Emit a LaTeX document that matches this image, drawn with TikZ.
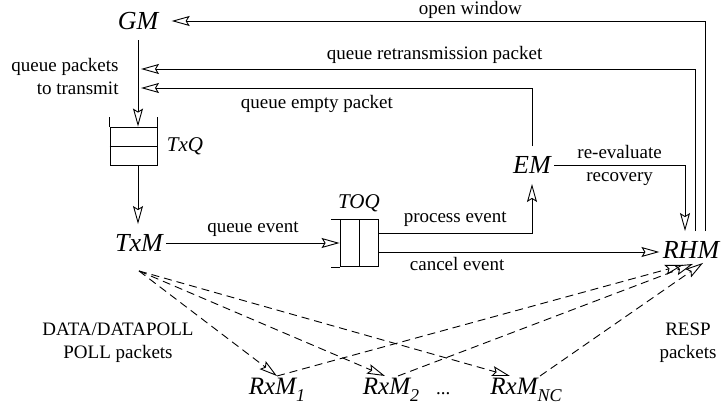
\documentclass[tikz,border=0pt]{standalone}
\usepackage{fontspec}
\setmainfont{Liberation Serif}
\usepackage{tikz}
\usetikzlibrary{arrows.meta}
\usetikzlibrary{positioning}

\newcommand{\rxsub}[1]{\raisebox{-7pt}{\fontsize{18}{18}\selectfont #1}}

\begin{document}
\begin{tikzpicture}[x=1pt,y=-1pt,line width=0.9pt,
  mod/.style={font=\fontsize{26}{28}\selectfont\itshape,inner xsep=3pt,inner ysep=10pt},
  rx/.style={font=\fontsize{25}{27}\selectfont\itshape,inner sep=2pt,anchor=north},
  qname/.style={font=\fontsize{21}{23}\selectfont\itshape,inner sep=2pt},
  msg/.style={font=\fontsize{19}{23}\selectfont,inner sep=2pt},
  arr/.style={-{Stealth[open,length=18pt,width=10pt,inset=3pt]}},
  darr/.style={arr,dash pattern=on 8pt off 5pt}]
  \useasboundingbox (0,0) rectangle (725,414);
  %modules
  \node[mod] (GM) at (138,21) {GM};
  \node[mod] (TxM) at (139,243) {TxM};
  \node[mod] (EM) at (532,165) {EM};
  \node[mod] (RHM) at (691,250) {RHM};
  \node[rx] (RxM1) at (277,376) {RxM\rxsub{1}};
  \node[rx] (RxM2) at (391,376) {RxM\rxsub{2}};
  \node[msg,base right=12pt of RxM2] (dots) {...};
  \node[rx] (RxMNC) at (526,376) {RxM\rxsub{NC}};
  \coordinate (retx) at (141,69);
  \coordinate (empt) at (141,88);

  %queues
  \node[draw,minimum width=47pt,minimum height=38pt,inner sep=0] (TxQ) at (133.5,146) {};
  \draw (TxQ.north west) -- ++(0,-10) (TxQ.north east) -- ++(0,-10) (TxQ.west) -- (TxQ.east);
  \node[qname,right=7pt of TxQ] (TxQname) {TxQ};
  \node[draw,minimum width=38pt,minimum height=47pt,inner sep=0] (TOQ) at (359,243) {};
  \draw (TOQ.north west) -- ++(-9,0) (TOQ.south west) -- ++(-9,0) (TOQ.north) -- (TOQ.south);
  \node[qname,above=5pt of TOQ] (TOQname) {TOQ};

  %sending side
  \draw[arr] (GM) -- (GM |- TxQ.north) node[msg,pos=0.42,left=17pt,align=right] {queue packets\\to transmit};
  \draw[arr] (TxQ.south -| GM) -- (TxM.north -| GM);
  \draw[arr] (TxM.east) -- (TxM.east -| TOQ.west) node[msg,midway,above=4pt] {queue event};
  \draw[arr] ([yshift=10pt]TOQ.east) -| node[msg,pos=0.25,above=4pt] {process event} (EM);
  \draw[arr] ([yshift=-9pt]TOQ.east) coordinate (cev) -- (cev -| RHM.west) node[msg,pos=0.28,below=3pt] {cancel event};
  \draw[arr] (EM.east) -| node[msg,pos=0.25,align=center] {re-evaluate\\recovery} ([xshift=-6pt]RHM.north);

  %back to GM
  \draw[arr] ([xshift=14pt]RHM.north) |- node[msg,pos=0.72,above=0pt] {open window} ([xshift=10pt]GM.east);
  \draw[arr] ([xshift=4pt]RHM.north) |- node[msg,pos=0.735,above=3pt] {queue retransmission packet} (retx);
  \draw[arr] (EM.north) |- node[msg,pos=0.775,below=5pt] {queue empty packet} (empt);

  %packets
  \draw[darr] ([yshift=-9pt]TxM.south) -- (RxM1.north);
  \draw[darr] ([yshift=-9pt]TxM.south) -- ([xshift=-6pt]RxM2.north);
  \draw[darr] ([yshift=-9pt]TxM.south) -- ([xshift=-16pt]RxMNC.north);
  \draw[darr] (RxM1.north) -- ([xshift=-8pt,yshift=4pt]RHM.south);
  \draw[darr] ([xshift=7pt]RxM2.north) -- ([xshift=2pt,yshift=5pt]RHM.south);
  \draw[darr] ([xshift=14pt]RxMNC.north) -- ([xshift=12pt,yshift=6pt]RHM.south);
  \node[msg,align=center] (dpoll) at (118,343) {DATA/DATAPOLL\\POLL packets};
  \node[msg,align=center] (resp) at (688,343) {RESP\\packets};
\end{tikzpicture}
\end{document}
